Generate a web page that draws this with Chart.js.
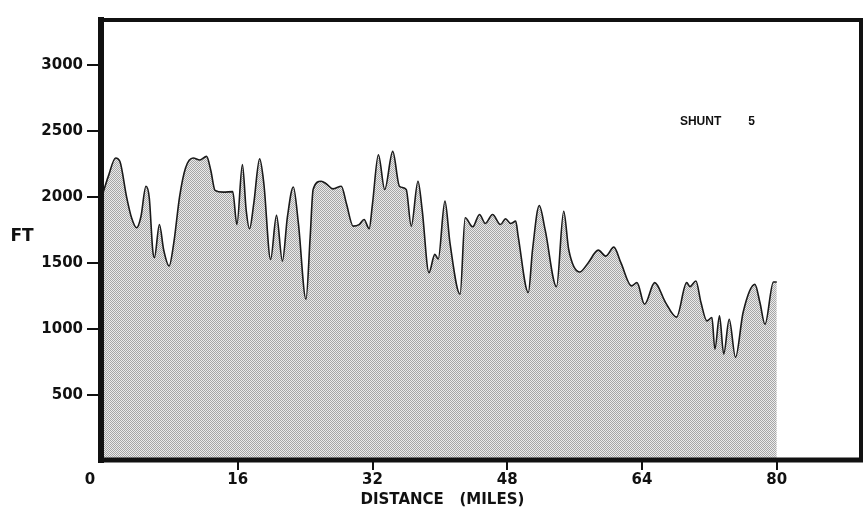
<!DOCTYPE html>
<html>
<head>
<meta charset="utf-8">
<script src="https://cdn.jsdelivr.net/npm/chart.js@4.4.0/dist/chart.umd.min.js"></script>
<style>
  html, body { margin: 0; padding: 0; background: #fff; }
  canvas { display: block; }
</style>
</head>
<body>
<canvas id="c" width="863" height="512"></canvas>
<script>
// Terrain profile along the path: distance in miles, elevation in feet
const MILES = [
  0.0, 0.6, 1.5, 2.0, 2.8, 3.4, 4.0, 4.5, 5.1, 5.5, 5.9, 6.1, 6.7, 7.2, 7.85,
  8.4, 9.1, 9.8, 10.7, 11.5, 12.3, 12.8, 13.3, 14.3, 15.4, 15.9, 16.55, 17.0, 17.4,
  17.9, 18.6, 19.1, 19.9, 20.6, 21.3, 21.9, 22.6, 23.2, 24.1, 24.6, 24.95, 25.9,
  26.5, 27.3, 28.3, 28.9, 29.7, 30.4, 31.0, 31.6, 32.0, 32.7, 33.45, 34.4, 35.2,
  36.0, 36.6, 37.4, 37.9, 38.7, 39.4, 39.8, 40.6, 41.2, 42.4, 43.0, 43.9, 44.7,
  45.4, 46.25, 47.2, 47.8, 48.4, 49.0, 49.3, 50.5, 51.0, 51.8, 52.5, 53.85, 54.7,
  55.3, 56.6, 57.6, 58.8, 59.7, 60.65, 61.5, 62.75, 63.4, 64.3, 65.5, 66.8, 68.1,
  69.3, 69.7, 70.4, 71.0, 71.7, 72.3, 72.65, 73.2, 73.7, 74.35, 75.1, 76.0, 77.4,
  78.0, 78.6, 79.6, 80.0
];
const ELEV = [
  2030, 2150, 2295, 2270, 2000, 1840, 1766, 1850, 2081, 1990, 1600, 1540, 1791, 1600, 1477,
  1650, 2005, 2220, 2295, 2280, 2307, 2200, 2050, 2036, 2040, 1791, 2245, 1900, 1759,
  1950, 2288, 2100, 1527, 1860, 1515, 1850, 2075, 1800, 1225, 1700, 2056, 2119,
  2100, 2061, 2081, 1950, 1779, 1790, 1829, 1759, 1950, 2320, 2056, 2345, 2081,
  2056, 1779, 2119, 1900, 1427, 1565, 1530, 1968, 1650, 1263, 1842, 1774, 1867,
  1799, 1867, 1791, 1835, 1799, 1817, 1700, 1276, 1600, 1935, 1750, 1321, 1892,
  1600, 1431, 1500, 1597, 1552, 1620, 1500, 1326, 1351, 1187, 1351, 1200, 1090,
  1351, 1321, 1363, 1200, 1061, 1087, 847, 1099, 810, 1074, 785, 1125, 1338,
  1200, 1036, 1356, 1356
];

const X_TICKS = [0, 16, 32, 48, 64, 80];
const Y_TICKS = [500, 1000, 1500, 2000, 2500, 3000];
const X_RANGE = [0, 90];
const Y_RANGE = [0, 3340];
const X_TITLE = 'DISTANCE   (MILES)';
const Y_TITLE = 'FT';
const NOTE = 'SHUNT';
const NOTE_NUM = '5';

const LABEL_FONT = { family: 'DejaVu Sans', weight: 'bold', size: 15 };

// halftone-like grey fill
function stipple() {
  const p = document.createElement('canvas');
  p.width = 2; p.height = 2;
  const g = p.getContext('2d');
  g.fillStyle = '#ebebeb';
  g.fillRect(0, 0, 2, 2);
  g.fillStyle = '#a6a6a6';
  g.fillRect(0, 0, 1, 1);
  g.fillRect(1, 1, 1, 1);
  return g.createPattern(p, 'repeat');
}

// heavy frame around the plot plus the free-standing labels
const framePlugin = {
  id: 'frame',
  afterDatasetsDraw(chart) {
    const { ctx, chartArea: a } = chart;
    ctx.save();
    ctx.strokeStyle = '#111';
    ctx.lineCap = 'square';
    ctx.lineWidth = 6;
    ctx.beginPath(); ctx.moveTo(a.left - 2, a.top); ctx.lineTo(a.left - 2, a.bottom - 1); ctx.stroke();
    ctx.lineWidth = 5;
    ctx.beginPath(); ctx.moveTo(a.left - 2, a.bottom - 1); ctx.lineTo(a.right, a.bottom - 1); ctx.stroke();
    ctx.lineWidth = 4;
    ctx.beginPath(); ctx.moveTo(a.left - 2, a.top); ctx.lineTo(a.right, a.top); ctx.stroke();
    ctx.beginPath(); ctx.moveTo(a.right, a.top); ctx.lineTo(a.right, a.bottom - 1); ctx.stroke();
    ctx.restore();
  },
  afterDraw(chart) {
    const { ctx } = chart;
    const xs = chart.scales.x, ys = chart.scales.y;
    ctx.save();
    ctx.fillStyle = '#111';
    ctx.textBaseline = 'middle';
    ctx.font = 'bold 17px "DejaVu Sans"';
    ctx.textAlign = 'center';
    ctx.fillText(Y_TITLE, 22, ys.getPixelForValue(1700));
    ctx.font = 'bold 15px "DejaVu Sans"';
    ctx.fillText(X_TITLE, xs.getPixelForValue(40.3), 500);
    ctx.font = 'bold 12px "Liberation Sans"';
    ctx.textAlign = 'left';
    ctx.fillText(NOTE, xs.getPixelForValue(68.5), ys.getPixelForValue(2570));
    ctx.fillText(NOTE_NUM, xs.getPixelForValue(76.6), ys.getPixelForValue(2570));
    ctx.restore();
  }
};

new Chart(document.getElementById('c'), {
  type: 'line',
  data: {
    datasets: [{
      data: MILES.map((m, i) => ({ x: m, y: ELEV[i] })),
      borderColor: '#1a1a1a',
      borderWidth: 1.6,
      backgroundColor: stipple(),
      fill: 'origin',
      pointRadius: 0,
      cubicInterpolationMode: 'monotone'
    }]
  },
  options: {
    responsive: false,
    animation: false,
    devicePixelRatio: 1,
    layout: { padding: { top: 20, right: 2, left: 0, bottom: 0 } },
    plugins: { legend: { display: false }, tooltip: { enabled: false } },
    scales: {
      x: {
        type: 'linear',
        min: X_RANGE[0], max: X_RANGE[1],
        afterBuildTicks: s => { s.ticks = X_TICKS.map(v => ({ value: v })); },
        afterFit: s => { s.height = 51; },
        border: { display: false },
        grid: {
          drawOnChartArea: false, drawTicks: true, tickLength: 9, lineWidth: 2,
          color: c => (c.tick && c.tick.value === 0) ? 'rgba(0,0,0,0)' : '#111'
        },
        ticks: {
          color: '#111', font: LABEL_FONT, padding: 1, maxRotation: 0, autoSkip: false,
          callback: v => v === 0 ? '0     ' : String(v)
        }
      },
      y: {
        type: 'linear',
        min: Y_RANGE[0], max: Y_RANGE[1],
        afterBuildTicks: s => { s.ticks = Y_TICKS.map(v => ({ value: v })); },
        afterFit: s => { s.width = 103; },
        border: { display: false },
        grid: { drawOnChartArea: false, drawTicks: true, tickLength: 16, color: '#111', lineWidth: 2 },
        ticks: { color: '#111', font: LABEL_FONT, padding: 4, autoSkip: false, callback: v => String(v) }
      }
    }
  },
  plugins: [framePlugin]
});
</script>
</body>
</html>
